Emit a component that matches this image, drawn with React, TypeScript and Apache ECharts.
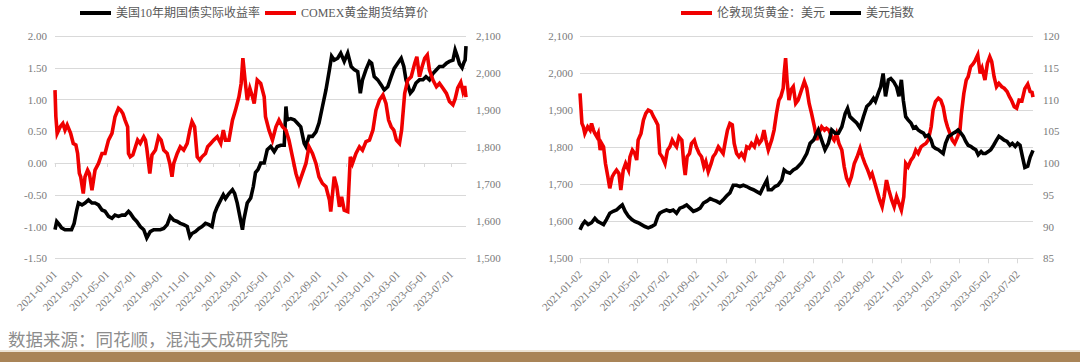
import React, { useEffect, useRef } from 'react';
import * as echarts from 'echarts';

// ---------- axis ranges / categories ----------
const LEFT_START = '2021-01-01';
const LEFT_END = '2023-08-04';
const RIGHT_START = '2021-01-02';
const RIGHT_END = '2023-08-03';

// ---------- left chart: US 10Y real yield (% ) — day offset from LEFT_START ----------
const yieldDay = [0,4,10,15,23,31,38,44,50,54,62,69,77,85,92,100,108,115,123,131,138,146,154,161,169,173,181,188,196,204,211,219,227,235,242,250,258,265,273,281,288,296,304,310,315,323,331,338,346,354,361,367,373,381,387,392,400,408,413,419,425,431,434,442,450,456,461,467,473,481,488,496,504,511,519,527,531,534,542,550,557,565,573,577,584,592,600,607,615,623,631,636,642,650,657,665,673,681,688,696,702,707,715,723,728,734,742,750,757,765,773,780,788,796,802,807,811,817,823,830,838,846,853,861,869,877,884,892,900,907,915,920,925,930,936,940,943,945];
const yieldVal = [-1.05,-0.92,-0.97,-1.02,-1.05,-1.05,-1.05,-0.95,-0.74,-0.63,-0.66,-0.63,-0.58,-0.63,-0.63,-0.66,-0.74,-0.76,-0.84,-0.87,-0.82,-0.84,-0.82,-0.82,-0.76,-0.79,-0.87,-0.92,-1.00,-1.05,-1.18,-1.08,-1.05,-1.05,-1.05,-1.03,-0.97,-0.84,-0.90,-0.92,-0.95,-0.97,-1.00,-1.16,-1.11,-1.08,-1.03,-1.00,-0.95,-0.97,-1.00,-0.79,-0.69,-0.58,-0.50,-0.56,-0.48,-0.42,-0.48,-0.63,-0.84,-1.05,-0.90,-0.63,-0.55,-0.37,-0.15,-0.10,0.00,0.00,0.21,0.26,0.18,0.26,0.28,0.28,0.89,0.68,0.70,0.68,0.63,0.57,0.31,0.26,0.42,0.42,0.49,0.63,0.89,1.15,1.47,1.68,1.62,1.65,1.73,1.60,1.73,1.52,1.47,1.44,1.10,1.31,1.47,1.60,1.57,1.36,1.31,1.23,1.15,1.20,1.36,1.49,1.57,1.65,1.52,1.31,1.23,1.10,1.15,1.26,1.31,1.31,1.36,1.31,1.41,1.47,1.52,1.52,1.57,1.60,1.62,1.78,1.68,1.56,1.50,1.58,1.62,1.84];

// ---------- left chart: COMEX gold settlement ----------
const comexDay = [0,2,5,12,18,23,28,36,42,48,52,56,59,65,69,75,79,85,92,100,108,115,123,131,138,146,151,156,161,167,169,173,179,185,190,196,204,208,211,218,223,231,238,244,250,258,264,269,273,281,288,296,304,310,315,321,327,333,338,346,351,358,365,373,381,387,392,400,408,415,423,428,432,437,442,448,454,458,465,473,481,484,492,500,508,515,523,531,538,546,554,561,569,577,584,592,600,607,615,623,631,634,642,648,654,659,665,673,679,684,692,700,707,715,723,731,738,746,754,761,767,773,779,785,792,797,804,811,819,827,832,838,844,850,856,861,869,877,884,892,900,907,915,920,926,933,938,942,945];
const comexVal = [1954,1882,1837,1855,1864,1846,1860,1837,1810,1806,1783,1729,1720,1675,1720,1738,1729,1684,1738,1756,1783,1783,1819,1837,1882,1905,1900,1891,1873,1855,1783,1774,1779,1801,1819,1810,1828,1819,1797,1729,1779,1792,1828,1819,1792,1783,1756,1720,1756,1783,1801,1792,1810,1846,1869,1855,1774,1765,1774,1783,1801,1810,1819,1828,1810,1846,1819,1819,1873,1900,1936,1972,2040,1981,1927,1959,1936,1918,1981,1972,1936,1882,1846,1819,1855,1873,1855,1846,1819,1774,1729,1702,1729,1756,1801,1783,1756,1720,1702,1693,1657,1626,1720,1693,1639,1666,1630,1626,1774,1756,1783,1801,1792,1815,1819,1846,1900,1927,1941,1918,1873,1855,1846,1819,1810,1846,1945,1981,1990,2026,2044,1990,2017,2040,2049,2008,1981,1963,1972,1959,1945,1923,1914,1930,1960,1975,1950,1965,1935];

// ---------- right chart: London spot gold (USD) — day offset from RIGHT_START ----------
const londonDay = [0,4,7,10,16,21,24,28,31,35,38,42,45,49,53,58,62,67,71,76,81,85,90,95,101,104,109,114,118,121,127,132,137,142,148,153,157,162,166,171,177,182,187,192,196,201,206,212,216,219,223,228,232,238,242,248,253,258,262,267,273,277,282,288,293,298,303,307,312,317,321,326,331,336,342,347,352,357,363,368,373,378,383,387,392,399,404,409,414,418,423,425,428,431,435,439,444,449,454,461,467,472,477,482,488,493,497,503,509,513,518,524,529,534,539,545,550,555,560,565,571,577,583,588,593,599,604,608,614,620,624,629,633,638,643,649,654,659,664,669,674,678,683,689,694,699,704,710,715,720,725,731,735,740,746,751,756,761,765,770,775,780,786,791,794,799,804,808,813,819,823,828,833,837,843,848,853,857,862,867,872,878,883,889,894,898,904,909,914,920,926,932,937,941,943];
const londonVal = [1945,1864,1855,1837,1855,1846,1864,1846,1837,1828,1837,1792,1810,1801,1756,1720,1689,1720,1729,1738,1729,1684,1738,1756,1738,1774,1792,1783,1765,1819,1837,1873,1891,1900,1896,1882,1873,1860,1783,1774,1756,1792,1801,1819,1810,1801,1828,1819,1756,1725,1774,1783,1810,1819,1801,1783,1774,1747,1761,1734,1756,1774,1783,1801,1792,1783,1819,1846,1864,1860,1810,1783,1774,1783,1770,1801,1797,1810,1801,1824,1810,1819,1846,1819,1792,1819,1846,1891,1927,1936,1959,1999,2040,1981,1927,1954,1963,1918,1927,1954,1977,1959,1918,1891,1855,1819,1837,1855,1846,1851,1846,1828,1819,1837,1810,1792,1747,1716,1702,1720,1756,1774,1797,1774,1756,1738,1720,1729,1702,1675,1657,1639,1666,1711,1684,1657,1639,1666,1648,1630,1666,1756,1747,1765,1774,1792,1783,1801,1806,1810,1819,1855,1900,1923,1932,1927,1909,1873,1855,1837,1819,1810,1828,1846,1891,1945,1981,1990,2017,2026,2035,2049,1999,2013,1981,2026,2044,2031,1990,1963,1972,1963,1959,1950,1936,1927,1909,1905,1927,1925,1958,1970,1950,1948,1935];

// ---------- right chart: US dollar index ----------
const dxyDay = [0,5,10,17,24,31,37,42,49,55,62,69,76,83,88,94,101,108,114,121,128,135,142,149,156,162,166,173,180,187,194,201,208,215,222,229,236,243,250,257,264,271,277,284,291,298,305,312,319,326,333,340,347,354,361,368,375,382,389,392,399,406,412,420,425,430,437,444,451,461,472,479,486,496,503,510,517,524,531,538,545,552,557,562,569,576,583,590,597,604,611,615,621,626,631,636,642,647,653,659,664,669,673,678,683,689,694,699,704,710,715,719,725,731,735,740,746,751,756,761,767,772,777,782,787,793,798,803,808,814,819,824,829,835,839,844,850,855,861,867,872,878,883,889,895,900,906,911,916,921,926,932,937,943];
const dxyVal = [89.5,90.3,90.8,90.3,90.6,91.3,90.8,90.6,90.3,91.1,92.1,92.4,92.6,93.1,93.4,92.4,91.6,91.1,90.8,90.6,90.3,90.0,89.8,90.0,90.3,91.6,92.1,92.4,92.6,92.4,92.6,92.1,92.9,93.1,93.4,92.9,92.4,92.6,92.9,93.7,94.0,94.4,94.2,94.0,93.7,94.2,94.8,95.3,96.5,96.5,96.3,96.5,96.3,96.0,95.8,95.5,95.2,96.3,97.3,95.8,95.8,96.3,96.5,97.3,98.9,98.6,98.4,98.9,99.2,100.0,101.5,103.1,103.6,105.2,103.6,102.1,103.1,105.2,104.7,104.7,105.7,107.8,108.6,107.3,106.8,106.3,105.5,107.3,108.9,109.4,110.2,109.7,111.0,112.0,114.1,110.5,113.1,113.3,112.8,112.0,110.5,113.1,109.9,107.3,106.8,106.3,105.5,105.7,105.2,104.9,104.7,104.2,104.4,103.6,102.6,102.3,102.1,101.8,101.5,103.1,104.2,104.4,104.7,104.9,105.2,104.7,104.2,103.4,102.8,102.6,102.3,102.1,101.3,101.8,101.5,101.5,101.8,102.1,102.8,103.6,104.2,103.9,103.6,103.4,102.8,103.1,102.6,103.1,102.8,101.0,99.3,99.5,100.9,102.0];

// ---------- texts ----------
const leftLegend = ['美国10年期国债实际收益率', 'COMEX黄金期货结算价'];
const rightLegend = ['伦敦现货黄金：美元', '美元指数'];
const sourceText = '数据来源：同花顺，混沌天成研究院';

const FONT = "'Liberation Serif', 'Times New Roman', 'Noto Sans CJK SC', serif";
const LABEL_COLOR = '#7a7a7a';
const GRID_COLOR = '#d9d9d9';
const RED = '#f00000';
const BLACK = '#000000';
const LINE_W = 3.6;

function buildDays(start: string, end: string): string[] {
  const out: string[] = [];
  const d = new Date(start + 'T00:00:00Z');
  const e = new Date(end + 'T00:00:00Z');
  while (d.getTime() <= e.getTime()) {
    out.push(d.toISOString().slice(0, 10));
    d.setUTCDate(d.getUTCDate() + 1);
  }
  return out;
}

const tickOn = (dayOfMonth: string) => (_idx: number, value: string) =>
  value.slice(8, 10) === dayOfMonth && Number(value.slice(5, 7)) % 2 === 1;

const pairs = (days: number[], vals: number[]) => days.map((d, i) => [d, vals[i]]);
const thousands = (v: number) => v.toLocaleString('en-US');

export default function App() {
  const ref = useRef<HTMLDivElement>(null);

  useEffect(() => {
    if (!ref.current) return;
    const chart = echarts.init(ref.current, undefined, { renderer: 'svg' });
    const leftCats = buildDays(LEFT_START, LEFT_END);
    const rightCats = buildDays(RIGHT_START, RIGHT_END);
    const leftTick = tickOn('01');
    const rightTick = tickOn('02');

    const xLabel = {
      rotate: 45,
      margin: 14,
      fontSize: 11,
      color: LABEL_COLOR,
      fontFamily: FONT,
    };
    const yLabel = { fontSize: 11, color: LABEL_COLOR, fontFamily: FONT };
    const legendBase = {
      icon: 'rect',
      itemWidth: 31,
      itemHeight: 4,
      itemGap: 5,
      padding: 0,
      top: 7,
      textStyle: { fontSize: 12, color: '#595959', fontFamily: FONT },
    };
    const lineSeries = (name: string, xi: number, yi: number, data: any[], color: string) => ({
      name, type: 'line', xAxisIndex: xi, yAxisIndex: yi, data,
      symbol: 'none', showSymbol: false,
      lineStyle: { color, width: LINE_W, join: 'miter' },
      itemStyle: { color },
    });

    const option: any = {
      animation: false,
      backgroundColor: '#ffffff',
      textStyle: { fontFamily: FONT },
      legend: [
        { ...legendBase, left: 80, data: leftLegend },
        { ...legendBase, left: 681, data: rightLegend },
      ],
      grid: [
        { left: 55, top: 36, width: 411, height: 222.3 },
        { left: 580, top: 36, width: 453, height: 222.3 },
      ],
      xAxis: [
        {
          gridIndex: 0, type: 'category', data: leftCats, boundaryGap: false, position: 'bottom',
          axisLine: { show: false, onZero: false },
          axisTick: { show: false },
          axisLabel: { ...xLabel, interval: leftTick },
          splitLine: { show: false },
        },
        {
          gridIndex: 0, type: 'category', data: leftCats, boundaryGap: false, position: 'bottom',
          axisLine: { show: true, onZero: true, lineStyle: { color: GRID_COLOR, width: 1 } },
          axisTick: { show: true, interval: leftTick, length: 4, lineStyle: { color: GRID_COLOR } },
          axisLabel: { show: false },
          splitLine: { show: false },
        },
        {
          gridIndex: 1, type: 'category', data: rightCats, boundaryGap: false, position: 'bottom',
          axisLine: { show: true, onZero: false, lineStyle: { color: GRID_COLOR, width: 1 } },
          axisTick: { show: true, interval: rightTick, length: 5, lineStyle: { color: GRID_COLOR } },
          axisLabel: { ...xLabel, interval: rightTick },
          splitLine: { show: false },
        },
      ],
      yAxis: [
        {
          gridIndex: 0, type: 'value', position: 'left', min: -1.5, max: 2, interval: 0.5,
          axisLine: { show: false }, axisTick: { show: false },
          axisLabel: { ...yLabel, margin: 8, formatter: (v: number) => v.toFixed(2) },
          splitLine: { show: true, lineStyle: { color: GRID_COLOR, width: 1 } },
        },
        {
          gridIndex: 0, type: 'value', position: 'right', min: 1500, max: 2100, interval: 100,
          axisLine: { show: false }, axisTick: { show: false },
          axisLabel: { ...yLabel, margin: 10, formatter: thousands },
          splitLine: { show: false },
        },
        {
          gridIndex: 1, type: 'value', position: 'left', min: 1500, max: 2100, interval: 100,
          axisLine: { show: false }, axisTick: { show: false },
          axisLabel: { ...yLabel, margin: 7, formatter: thousands },
          splitLine: { show: true, lineStyle: { color: GRID_COLOR, width: 1 } },
        },
        {
          gridIndex: 1, type: 'value', position: 'right', min: 85, max: 120, interval: 5,
          axisLine: { show: false }, axisTick: { show: false },
          axisLabel: { ...yLabel, margin: 10 },
          splitLine: { show: false },
        },
      ],
      series: [
        lineSeries(leftLegend[0], 0, 0, pairs(yieldDay, yieldVal), BLACK),
        lineSeries(leftLegend[1], 0, 1, pairs(comexDay, comexVal), RED),
        lineSeries(rightLegend[0], 2, 2, pairs(londonDay, londonVal), RED),
        lineSeries(rightLegend[1], 2, 3, pairs(dxyDay, dxyVal), BLACK),
      ],
      graphic: [
        {
          type: 'text', left: 8, top: 331,
          style: { text: sourceText, fontSize: 17.5, fill: '#8c8c8c', fontFamily: FONT },
        },
        { type: 'rect', shape: { x: 0, y: 350, width: 1080, height: 2 }, style: { fill: '#ece3d4' } },
        { type: 'rect', shape: { x: 0, y: 352, width: 1080, height: 10 }, style: { fill: '#a98457' } },
      ],
    };

    chart.setOption(option);
    return () => chart.dispose();
  }, []);

  return (
    <div
      ref={ref}
      style={{ position: 'absolute', left: 0, top: 0, width: 1080, height: 362, background: '#fff' }}
    />
  );
}
